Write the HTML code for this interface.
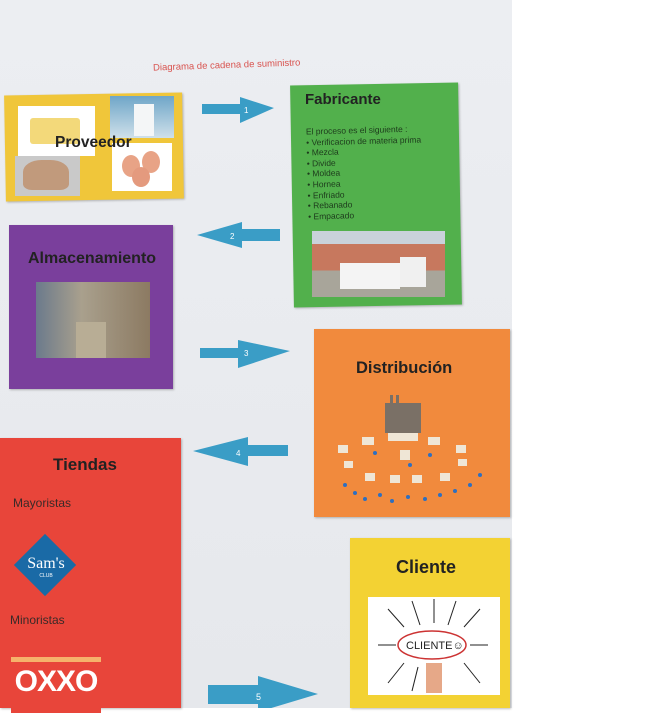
<!DOCTYPE html>
<html><head><meta charset="utf-8"><style>
body{margin:0;width:670px;height:708px;overflow:hidden;background:#fff;font-family:"Liberation Sans",sans-serif;position:relative}
.paper{position:absolute;left:0;top:0;width:512px;height:708px;background:linear-gradient(180deg,#eceef2,#e6e8ec)}
.a{position:absolute}
.box{position:absolute;box-shadow:1px 1px 2px rgba(0,0,0,.25)}
.t{position:absolute;font-weight:bold;color:#222}
.img{position:absolute}
</style></head><body>
<div class="paper"></div>
<div class="a" style="left:153px;top:60px;font-size:9.5px;color:#d9534f;transform:rotate(-2deg)">Diagrama de cadena de suministro</div>

<!-- Proveedor -->
<div class="box" style="left:5px;top:94px;width:178px;height:106px;background:#f0c63a;transform:rotate(-1deg)"></div>
<div class="img" style="left:18px;top:106px;width:77px;height:50px;background:#fff"><div style="position:absolute;left:12px;top:12px;width:50px;height:26px;background:#f3d97a;border-radius:3px"></div></div>
<div class="img" style="left:110px;top:96px;width:64px;height:42px;background:linear-gradient(#6fa6c8,#cfe0ea)"><div style="position:absolute;left:24px;top:8px;width:20px;height:32px;background:#f4f6f7"></div></div>
<div class="img" style="left:15px;top:156px;width:65px;height:40px;background:#c9c9c9"><div style="position:absolute;left:8px;top:4px;width:46px;height:30px;background:#c19a7c;border-radius:40% 40% 20% 20%"></div></div>
<div class="img" style="left:112px;top:143px;width:60px;height:48px;background:#fff"><div style="position:absolute;left:10px;top:12px;width:18px;height:22px;background:#e8a386;border-radius:50%"></div><div style="position:absolute;left:30px;top:8px;width:18px;height:22px;background:#e8a386;border-radius:50%"></div><div style="position:absolute;left:20px;top:24px;width:18px;height:20px;background:#e49a7e;border-radius:50%"></div></div>
<div class="t" style="left:55px;top:134px;font-size:15.5px">Proveedor</div>

<!-- Arrow 1 -->
<svg class="a" style="left:200px;top:95px" width="78" height="32"><polygon points="2,9 40,9 40,2 74,13 40,28 40,19 2,19" fill="#3a9dc6"/><text x="44" y="18" font-size="8" fill="#fff" font-family="Liberation Sans">1</text></svg>

<!-- Fabricante -->
<div class="box" style="left:292px;top:84px;width:168px;height:222px;background:#52b04c;transform:rotate(-1deg)"></div>
<div class="t" style="left:305px;top:91px;font-size:15px">Fabricante</div>
<div class="a" style="left:307px;top:125px;font-size:8.5px;line-height:10.6px;color:#1d3a1c;transform:rotate(-1.5deg)">El proceso es el siguiente :<br>• Verificacion de materia prima<br>• Mezcla<br>• Divide<br>• Moldea<br>• Hornea<br>• Enfriado<br>• Rebanado<br>• Empacado</div>
<div class="img" style="left:312px;top:231px;width:133px;height:66px;background:linear-gradient(#c9d2da 0 20%,#c7785e 20% 60%,#a8a59a 60%)"><div style="position:absolute;left:28px;top:32px;width:60px;height:26px;background:#f4f4f4"></div><div style="position:absolute;left:88px;top:26px;width:26px;height:30px;background:#f0f0f0"></div></div>

<!-- Arrow 2 -->
<svg class="a" style="left:194px;top:220px" width="90" height="32"><polygon points="86,9 48,9 48,2 3,15 48,28 48,21 86,21" fill="#3a9dc6"/><text x="36" y="19" font-size="8" fill="#fff" font-family="Liberation Sans">2</text></svg>

<!-- Almacenamiento -->
<div class="box" style="left:9px;top:225px;width:164px;height:164px;background:#7a3f9c"></div>
<div class="t" style="left:28px;top:250px;font-size:16px">Almacenamiento</div>
<div class="img" style="left:36px;top:282px;width:114px;height:76px;background:linear-gradient(90deg,#6b7a8c,#a9a08d 40%,#8c7a62)"><div style="position:absolute;left:40px;top:40px;width:30px;height:36px;background:#b8ad95"></div></div>

<!-- Arrow 3 -->
<svg class="a" style="left:198px;top:338px" width="96" height="34"><polygon points="2,10 40,10 40,2 92,13 40,30 40,20 2,20" fill="#3a9dc6"/><text x="46" y="18" font-size="8" fill="#fff" font-family="Liberation Sans">3</text></svg>

<!-- Distribucion -->
<div class="box" style="left:314px;top:329px;width:196px;height:188px;background:#f18a3d"></div>
<div class="t" style="left:356px;top:359px;font-size:16.5px">Distribución</div>
<svg class="a" style="left:330px;top:395px" width="160" height="115">
<rect x="55" y="8" width="36" height="30" fill="#7a7066"/><rect x="60" y="0" width="3" height="10" fill="#7a7066"/><rect x="66" y="0" width="3" height="10" fill="#7a7066"/>
<g fill="#efe6d6"><rect x="58" y="38" width="30" height="8"/><rect x="32" y="42" width="12" height="8"/><rect x="98" y="42" width="12" height="8"/><rect x="8" y="50" width="10" height="8"/><rect x="126" y="50" width="10" height="8"/><rect x="70" y="55" width="10" height="10"/><rect x="14" y="66" width="9" height="7"/><rect x="128" y="64" width="9" height="7"/><rect x="35" y="78" width="10" height="8"/><rect x="60" y="80" width="10" height="8"/><rect x="82" y="80" width="10" height="8"/><rect x="110" y="78" width="10" height="8"/></g>
<g fill="#2f6fbf"><circle cx="15" cy="90" r="2"/><circle cx="25" cy="98" r="2"/><circle cx="35" cy="104" r="2"/><circle cx="50" cy="100" r="2"/><circle cx="62" cy="106" r="2"/><circle cx="78" cy="102" r="2"/><circle cx="95" cy="104" r="2"/><circle cx="110" cy="100" r="2"/><circle cx="125" cy="96" r="2"/><circle cx="140" cy="90" r="2"/><circle cx="150" cy="80" r="2"/><circle cx="45" cy="58" r="2"/><circle cx="100" cy="60" r="2"/><circle cx="80" cy="70" r="2"/></g></svg>

<!-- Arrow 4 -->
<svg class="a" style="left:190px;top:434px" width="102" height="36"><polygon points="98,11 58,11 58,3 3,17 58,32 58,22 98,22" fill="#3a9dc6"/><text x="46" y="22" font-size="8" fill="#fff" font-family="Liberation Sans">4</text></svg>

<!-- Tiendas -->
<div class="box" style="left:0;top:438px;width:181px;height:270px;background:#e8453a"></div>
<div class="t" style="left:53px;top:455px;font-size:17px">Tiendas</div>
<div class="a" style="left:13px;top:496px;font-size:12px;color:#3a2a28">Mayoristas</div>
<div class="a" style="left:23px;top:543px;width:44px;height:44px;background:#1a6aa6;transform:rotate(45deg)"></div>
<div class="a" style="left:16px;top:555px;width:60px;text-align:center;font-family:'Liberation Serif',serif;font-size:16px;color:#fff">Sam's<div style="font-size:5px;font-family:'Liberation Sans'">CLUB</div></div>
<div class="a" style="left:10px;top:613px;font-size:12px;color:#3a2a28">Minoristas</div>
<div class="a" style="left:11px;top:657px;width:90px;height:51px;background:#e8453a;border-top:5px solid #f6b26b;overflow:hidden"></div>
<div class="a" style="left:11px;top:664px;width:90px;text-align:center;font-size:30px;font-weight:bold;color:#fff;letter-spacing:-1px;line-height:36px">OXXO</div>

<!-- Cliente -->
<div class="box" style="left:350px;top:538px;width:160px;height:170px;background:#f3d233"></div>
<div class="t" style="left:396px;top:557px;font-size:18px">Cliente</div>
<svg class="a" style="left:368px;top:597px;background:#fff" width="132" height="98">
<ellipse cx="64" cy="48" rx="34" ry="14" fill="none" stroke="#c33" stroke-width="1.5"/>
<text x="38" y="52" font-size="11" font-family="Liberation Sans" fill="#222">CLIENTE☺</text>
<g stroke="#222" stroke-width="1"><line x1="10" y1="48" x2="28" y2="48"/><line x1="120" y1="48" x2="102" y2="48"/><line x1="20" y1="12" x2="36" y2="30"/><line x1="44" y1="4" x2="52" y2="28"/><line x1="66" y1="2" x2="66" y2="26"/><line x1="88" y1="4" x2="80" y2="28"/><line x1="112" y1="12" x2="96" y2="30"/><line x1="20" y1="86" x2="36" y2="66"/><line x1="112" y1="86" x2="96" y2="66"/><line x1="44" y1="94" x2="50" y2="70"/></g>
<rect x="58" y="66" width="16" height="30" fill="#e6a888"/></svg>

<!-- Arrow 5 -->
<svg class="a" style="left:206px;top:676px" width="114" height="32"><polygon points="2,9 52,9 52,0 112,18 52,36 52,28 2,28" fill="#3a9dc6"/><text x="50" y="24" font-size="9" fill="#fff" font-family="Liberation Sans">5</text></svg>
</body></html>
